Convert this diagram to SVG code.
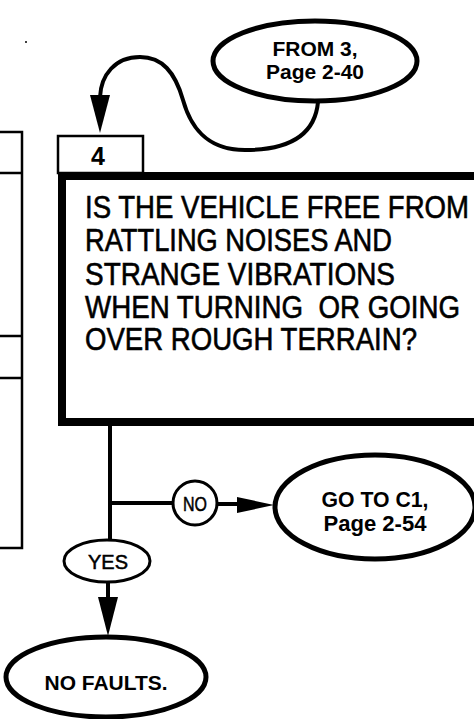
<svg xmlns="http://www.w3.org/2000/svg" width="474" height="719" viewBox="0 0 474 719">
<style>
  .ln { fill: none; stroke: #000; stroke-linecap: butt; }
  .ah { fill: #000; stroke: none; }
  .q { font-family: "Liberation Sans", Arial, sans-serif; font-size: 31px; fill: #000; stroke: #000; stroke-width: 0.6px; }
  .b { font-family: "Liberation Sans", Arial, sans-serif; font-weight: bold; fill: #000; text-anchor: middle; }
  .r { font-family: "Liberation Sans", Arial, sans-serif; fill: #000; stroke: #000; stroke-width: 0.5px; text-anchor: middle; }
</style>
<rect width="474" height="719" fill="#fff"/>
<circle cx="26" cy="42" r="1" fill="#000"/>
<g id="left-box">
  <path class="ln" stroke-width="2.5" d="M0,132 H22 V548 H0 M0,173 H22 M0,336 H22 M0,378 H22"/>
</g>
<g id="from3">
  <ellipse cx="315" cy="61" rx="102" ry="40" fill="#fff" stroke="#000" stroke-width="5"/>
  <text class="b" x="315" y="56" font-size="21" textLength="85" lengthAdjust="spacingAndGlyphs">FROM 3,</text>
  <text class="b" x="315" y="79" font-size="21" textLength="98" lengthAdjust="spacingAndGlyphs">Page 2-40</text>
</g>
<g id="step4-label">
  <rect x="58" y="136" width="85" height="37" fill="#fff" stroke="#000" stroke-width="2.5"/>
  <text class="b" x="98" y="165" font-size="25">4</text>
</g>
<g id="step4">
  <rect x="62" y="176" width="420" height="246" fill="#fff" stroke="#000" stroke-width="8"/>
  <text class="q" x="85" y="218" textLength="384" lengthAdjust="spacingAndGlyphs">IS THE VEHICLE FREE FROM</text>
  <text class="q" x="85" y="251" textLength="307" lengthAdjust="spacingAndGlyphs">RATTLING NOISES AND</text>
  <text class="q" x="85" y="285" textLength="310" lengthAdjust="spacingAndGlyphs">STRANGE VIBRATIONS</text>
  <text class="q" x="85" y="318" textLength="375" lengthAdjust="spacingAndGlyphs" xml:space="preserve">WHEN TURNING  OR GOING</text>
  <text class="q" x="85" y="350" textLength="332" lengthAdjust="spacingAndGlyphs">OVER ROUGH TERRAIN?</text>
</g>
<g id="no-label">
  <circle cx="195" cy="503" r="22" fill="#fff" stroke="#000" stroke-width="3"/>
  <text class="r" x="195" y="511" font-size="20" textLength="24" lengthAdjust="spacingAndGlyphs">NO</text>
</g>
<g id="goto-c1">
  <ellipse cx="375" cy="507" rx="100" ry="52" fill="#fff" stroke="#000" stroke-width="5"/>
  <text class="b" x="375" y="507" font-size="22" textLength="107" lengthAdjust="spacingAndGlyphs">GO TO C1,</text>
  <text class="b" x="375" y="531" font-size="22" textLength="103" lengthAdjust="spacingAndGlyphs">Page 2-54</text>
</g>
<g id="yes-label">
  <ellipse cx="107" cy="561" rx="43" ry="21" fill="#fff" stroke="#000" stroke-width="3"/>
  <text class="r" x="108" y="569" font-size="20" textLength="40" lengthAdjust="spacingAndGlyphs">YES</text>
</g>
<g id="no-faults">
  <ellipse cx="106" cy="677" rx="100" ry="40" fill="#fff" stroke="#000" stroke-width="5"/>
  <text class="b" x="106" y="690" font-size="21" textLength="123" lengthAdjust="spacingAndGlyphs">NO FAULTS.</text>
</g>
<g id="connectors">
  <path class="ln" stroke-width="4" d="M318,102 C315,135 290,150 245,150 C205,150 190,125 183,100 C175,72 162,57 140,57 C115,57 101,75 100,97"/>
  <polygon class="ah" points="90,95 110,95 100,133"/>
  <path class="ln" stroke-width="4" d="M110,426 V540"/>
  <path class="ln" stroke-width="4" d="M110,503 H173"/>
  <path class="ln" stroke-width="4" d="M217,504 H240"/>
  <polygon class="ah" points="237,497 237,513 274,505"/>
  <path class="ln" stroke-width="4" d="M108,582 V600"/>
  <polygon class="ah" points="98,597 118,597 108,636"/>
</g>
</svg>
